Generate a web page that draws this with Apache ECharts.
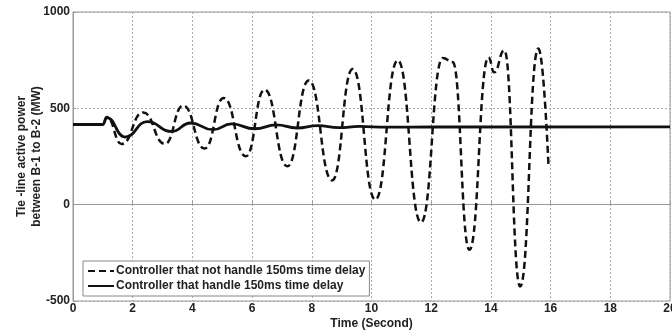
<!DOCTYPE html>
<html>
<head>
<meta charset="utf-8">
<script src="https://cdn.jsdelivr.net/npm/echarts@6/dist/echarts.min.js"></script>
<style>
html,body{margin:0;padding:0;background:#fff;}
#chart{width:672px;height:333px;}
</style>
</head>
<body>
<div id="chart"></div>
<script>
// Data
const xTicks = [0, 2, 4, 6, 8, 10, 12, 14, 16, 18, 20];
const yTicks = [-500, 0, 500, 1000];

const dashedName = 'Controller that not handle 150ms time delay';
const dashedTime  = [0, 1.0, 1.13, 1.63, 2.35, 3.08, 3.69, 4.41, 5.05, 5.79, 6.42, 7.18, 7.9, 8.68, 9.37, 10.13, 10.88, 11.66, 12.39, 12.72, 13.28, 13.92, 14.11, 14.45, 14.98, 15.59, 15.93];
const dashedPower = [416, 416, 455, 315, 479, 315, 515, 291, 554, 251, 597, 199, 645, 126, 704, 26, 749, -92, 761, 740, -234, 764, 687, 801, -424, 810, 199];

const solidName = 'Controller that handle 150ms time delay';
const solidTime  = [0, 1.0, 1.13, 1.74, 2.49, 3.3, 3.94, 4.69, 5.31, 6.09, 6.81, 7.5, 8.2, 8.9, 9.6, 10.5, 12, 20];
const solidPower = [416, 416, 452, 351, 431, 380, 424, 389, 419, 394, 414, 398, 410, 400, 406, 402, 403, 404];

const zip = (a, b) => a.map((v, i) => [v, b[i]]);

const font = 'Arial, "Liberation Sans", sans-serif';
const chart = echarts.init(document.getElementById('chart'));
chart.setOption({
  animation: false,
  backgroundColor: '#fff',
  grid: {left: 73, right: 2, top: 12, bottom: 32, containLabel: false, outerBoundsMode: 'none',
         show: true, borderColor: '#999', borderWidth: 1, backgroundColor: 'transparent'},
  legend: {
    left: 83, top: 261, orient: 'vertical',
    itemWidth: 26, itemHeight: 12, itemGap: 3,
    padding: [4, 4, 4, 4],
    backgroundColor: '#fff', borderColor: '#888', borderWidth: 1,
    itemStyle: {opacity: 0},
    textStyle: {fontFamily: font, fontWeight: 'bold', fontSize: 12, color: '#222', padding: [0, 0, 0, -3]},
    data: [dashedName, solidName]
  },
  xAxis: {
    type: 'value', min: xTicks[0], max: xTicks[xTicks.length - 1], interval: 2,
    name: 'Time (Second)', nameLocation: 'middle', nameGap: 17, nameMoveOverlap: false,
    nameTextStyle: {fontFamily: font, fontWeight: 'bold', fontSize: 12, color: '#222'},
    axisLine: {lineStyle: {color: '#999'}},
    axisTick: {inside: true, length: 3, lineStyle: {color: '#999'}},
    axisLabel: {fontFamily: font, fontWeight: 'bold', fontSize: 12, color: '#222', margin: 2, formatter: v => String(v)},
    splitLine: {lineStyle: {type: [2, 2], color: '#aaa', width: 1}}
  },
  yAxis: {
    type: 'value', min: yTicks[0], max: yTicks[yTicks.length - 1], interval: 500,
    name: 'Tie -line active power\nbetween B-1 to B-2 (MW)', nameLocation: 'middle', nameGap: 29, nameMoveOverlap: false,
    nameTextStyle: {fontFamily: font, fontWeight: 'bold', fontSize: 12, color: '#222', lineHeight: 15},
    axisLine: {lineStyle: {color: '#999'}},
    axisTick: {inside: true, length: 3, lineStyle: {color: '#999'}},
    axisLabel: {fontFamily: font, fontWeight: 'bold', fontSize: 12, color: '#222', margin: 3, formatter: v => String(v)},
    splitLine: {lineStyle: {type: [2, 2], color: '#aaa', width: 1}}
  },
  series: [
    {
      name: dashedName, type: 'line', data: zip(dashedTime, dashedPower),
      smooth: 0.5, smoothMonotone: 'x', showSymbol: false, symbol: 'none',
      lineStyle: {color: '#111', width: 2.5, type: [7, 4]}, itemStyle: {color: '#111'}, z: 3
    },
    {
      name: solidName, type: 'line', data: zip(solidTime, solidPower),
      smooth: 0.5, smoothMonotone: 'x', showSymbol: false, symbol: 'none',
      lineStyle: {color: '#111', width: 2.8}, itemStyle: {color: '#111'}, z: 4
    }
  ]
});
</script>
</body>
</html>
